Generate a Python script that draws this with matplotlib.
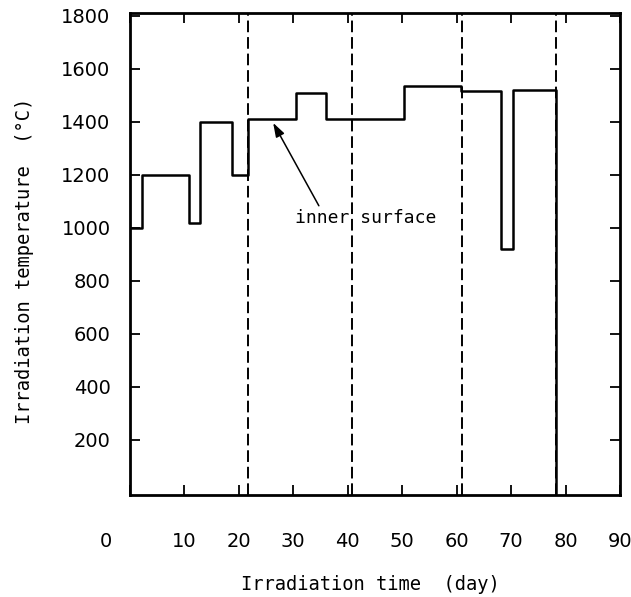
import matplotlib
matplotlib.use("Agg")
import matplotlib.pyplot as plt
import matplotlib.transforms as mtransforms

# irradiation history: start day of each period and its temperature
step_days = [0, 2.2, 10.8, 12.9, 18.75, 21.7, 30.5, 36.0, 50.4, 60.8, 68.2, 70.4]
step_temps = [1000, 1200, 1020, 1400, 1200, 1410, 1510, 1410, 1535, 1515, 920, 1520]
end_day = 78.3

# cycle boundaries
cycle_days = [21.7, 40.8, 61.0, 78.3]

x_ticks = [0, 10, 20, 30, 40, 50, 60, 70, 80, 90]
y_ticks = [200, 400, 600, 800, 1000, 1200, 1400, 1600, 1800]

mono = "DejaVu Sans Mono"

fig = plt.figure(figsize=(6.31, 5.97), dpi=100)
ax = fig.add_axes([0.206, 0.171, 0.7765, 0.8073])

xs = step_days + [end_day, end_day]
ys = step_temps + [step_temps[-1], 0]
ax.plot(xs, ys, drawstyle="steps-post", color="black", lw=1.8)

for d in cycle_days:
    ax.axvline(d, color="black", lw=1.4, dashes=(6, 2.5))

ax.annotate("inner surface", xy=(26.3, 1396), xytext=(30.3, 1020),
            fontsize=13, family=mono, va="baseline", ha="left",
            arrowprops=dict(arrowstyle="-|>,head_length=0.6,head_width=0.2",
                            color="black", lw=1.1,
                            mutation_scale=14, shrinkA=0, shrinkB=0,
                            relpos=(0.18, 1.0)))

ax.set_xlim(0, 90)
ax.set_ylim(-8, 1811)

ax.set_xticks(x_ticks)
ax.set_xticklabels([str(v) for v in x_ticks])
ax.set_yticks(y_ticks)
ax.set_yticklabels([str(v) for v in y_ticks])
ax.tick_params(direction="in", length=7, width=1.3, top=True, right=True,
               labelsize=14, colors="black")
ax.tick_params(axis="x", pad=27)
ax.tick_params(axis="y", pad=14)

# the "0" label sits left of the axis corner
shift = mtransforms.ScaledTranslation(-0.24, 0, fig.dpi_scale_trans)
lab0 = ax.get_xticklabels()[0]
lab0.set_transform(lab0.get_transform() + shift)

for side in ["left", "right", "top", "bottom"]:
    ax.spines[side].set_linewidth(2.0)

ax.set_xlabel("Irradiation time  (day)", family=mono, fontsize=13.5)
ax.set_ylabel("Irradiation temperature  (\u00b0C)", family=mono, fontsize=13.5)
ax.xaxis.set_label_coords(0.49, -0.166)
ax.yaxis.set_label_coords(-0.196, 0.485)

fig.savefig("out.png", dpi=100)
